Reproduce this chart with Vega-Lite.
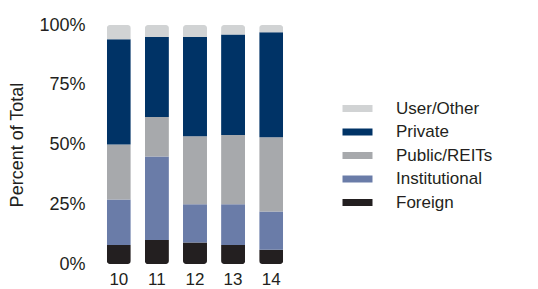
{
  "$schema": "https://vega.github.io/schema/vega-lite/v6.json",
  "autosize": "none",
  "width": 190,
  "height": 239,
  "padding": {"left": 100, "top": 25, "right": 248, "bottom": 25},
  "background": "white",
  "config": {"view": {"stroke": null}, "font": "Liberation Sans"},
  "data": {"values": [
    {"year": "10", "series": "Foreign", "ord": 1, "value": 8},
    {"year": "10", "series": "Institutional", "ord": 2, "value": 19},
    {"year": "10", "series": "Public/REITs", "ord": 3, "value": 23},
    {"year": "10", "series": "Private", "ord": 4, "value": 44},
    {"year": "10", "series": "User/Other", "ord": 5, "value": 6},
    {"year": "11", "series": "Foreign", "ord": 1, "value": 10},
    {"year": "11", "series": "Institutional", "ord": 2, "value": 35},
    {"year": "11", "series": "Public/REITs", "ord": 3, "value": 16.5},
    {"year": "11", "series": "Private", "ord": 4, "value": 33.5},
    {"year": "11", "series": "User/Other", "ord": 5, "value": 5},
    {"year": "12", "series": "Foreign", "ord": 1, "value": 9},
    {"year": "12", "series": "Institutional", "ord": 2, "value": 16},
    {"year": "12", "series": "Public/REITs", "ord": 3, "value": 28.5},
    {"year": "12", "series": "Private", "ord": 4, "value": 41.5},
    {"year": "12", "series": "User/Other", "ord": 5, "value": 5},
    {"year": "13", "series": "Foreign", "ord": 1, "value": 8},
    {"year": "13", "series": "Institutional", "ord": 2, "value": 17},
    {"year": "13", "series": "Public/REITs", "ord": 3, "value": 29},
    {"year": "13", "series": "Private", "ord": 4, "value": 42},
    {"year": "13", "series": "User/Other", "ord": 5, "value": 4},
    {"year": "14", "series": "Foreign", "ord": 1, "value": 6},
    {"year": "14", "series": "Institutional", "ord": 2, "value": 16},
    {"year": "14", "series": "Public/REITs", "ord": 3, "value": 31},
    {"year": "14", "series": "Private", "ord": 4, "value": 44},
    {"year": "14", "series": "User/Other", "ord": 5, "value": 3}
  ]},
  "mark": {"type": "bar", "cornerRadius": 3},
  "encoding": {
    "x": {
      "field": "year", "type": "nominal",
      "scale": {"paddingInner": 0.37, "paddingOuter": 0.18},
      "axis": {"title": null, "labelAngle": 0, "domain": false, "ticks": false, "labelPadding": 7, "labelFontSize": 17, "labelColor": "#231f20"}
    },
    "y": {
      "field": "value", "type": "quantitative", "aggregate": "sum", "stack": "normalize",
      "scale": {"domain": [0, 1]},
      "axis": {"title": "Percent of Total", "values": [0, 0.25, 0.5, 0.75, 1], "format": ".0%", "domain": false, "ticks": false, "grid": false, "labelPadding": 15, "labelFontSize": 18, "labelColor": "#231f20", "titleFontSize": 18, "titleFontWeight": "normal", "titleColor": "#231f20", "titlePadding": 12}
    },
    "order": {"field": "ord", "type": "quantitative", "sort": "ascending"},
    "color": {
      "field": "series", "type": "nominal",
      "scale": {
        "domain": ["User/Other", "Private", "Public/REITs", "Institutional", "Foreign"],
        "range": ["#d1d3d4", "#003366", "#a7a9ac", "#6a7ca8", "#231f20"]
      },
      "legend": {
        "title": null, "orient": "none", "legendX": 249, "legendY": 75,
        "symbolType": "M-3,-0.7H3V0.7H-3Z", "symbolSize": 100, "symbolStrokeWidth": 0,
        "labelFontSize": 17, "labelColor": "#231f20", "labelOffset": 30, "rowPadding": 5.5
      }
    }
  }
}
